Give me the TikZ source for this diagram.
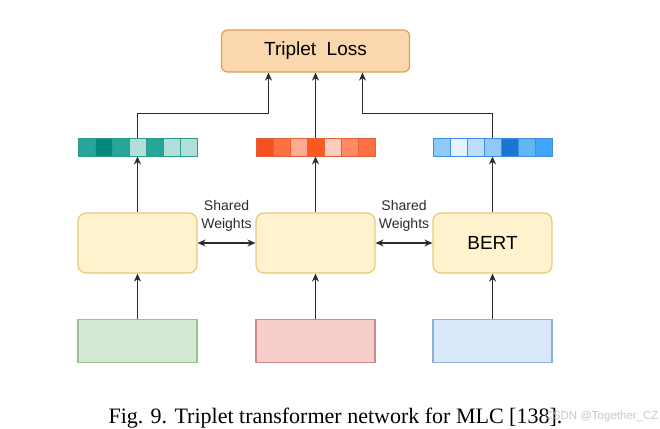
\documentclass[tikz,border=0pt]{standalone}
\usepackage{fontspec}
\setmainfont{Liberation Serif}
\setsansfont{Liberation Sans}
\usetikzlibrary{arrows.meta,positioning}
\definecolor{linegray}{HTML}{2B2B2B}
\definecolor{lossfill}{HTML}{FAD7AC}
\definecolor{lossdraw}{HTML}{D9A05B}
\definecolor{encfill}{HTML}{FFF2CC}
\definecolor{encdraw}{HTML}{E6C97A}
\definecolor{grfill}{HTML}{D5E8D4}
\definecolor{grdraw}{HTML}{97C48C}
\definecolor{rdfill}{HTML}{F8CECC}
\definecolor{rddraw}{HTML}{D08A86}
\definecolor{blfill}{HTML}{DAE8FC}
\definecolor{bldraw}{HTML}{90AEDB}
\definecolor{tA}{HTML}{26A69A}
\definecolor{tB}{HTML}{00897B}
\definecolor{tC}{HTML}{B2DFDB}
\definecolor{tD}{HTML}{2E9C8A}
\definecolor{oA}{HTML}{F4511E}
\definecolor{oB}{HTML}{FF7043}
\definecolor{oC}{HTML}{FFAB91}
\definecolor{oD}{HTML}{FF5722}
\definecolor{oE}{HTML}{FFCCBC}
\definecolor{oF}{HTML}{FF8A65}
\definecolor{oG}{HTML}{E0623A}
\definecolor{bA}{HTML}{90CAF9}
\definecolor{bB}{HTML}{E3F2FD}
\definecolor{bC}{HTML}{BBDEFB}
\definecolor{bD}{HTML}{1976D2}
\definecolor{bE}{HTML}{64B5F6}
\definecolor{bF}{HTML}{42A5F5}
\definecolor{bG}{HTML}{3D8FE0}
\begin{document}
\begin{tikzpicture}[x=1pt,y=-1pt,
    line/.style={draw=linegray,line width=1.3pt,-{Stealth[length=8pt,width=7pt]}},
    both/.style={draw=linegray,line width=1.3pt,{Stealth[length=8pt,width=7pt]}-{Stealth[length=8pt,width=7pt]}},
    encbox/.style={draw=encdraw,fill=encfill,line width=1.2pt,rounded corners=8pt,minimum width=119pt,minimum height=60pt,inner sep=0pt,font=\sffamily\fontsize{19}{22}\selectfont},
    inbox/.style={line width=1.2pt,minimum width=119pt,minimum height=43pt,inner sep=0pt},
    cell/.style={line width=0.9pt,minimum width=17pt,minimum height=18pt,inner sep=0pt},
    swtext/.style={align=center,font=\sffamily\fontsize{14}{18}\selectfont,text=linegray}]
  \pgfmathsetmacro{\w}{17}
  \useasboundingbox (0,0) rectangle (660,428);
  \node[draw=lossdraw,fill=lossfill,line width=1.2pt,rounded corners=6pt,minimum width=188pt,minimum height=42pt,font=\sffamily\fontsize{19}{21}\selectfont] (loss) at (315.5,51) {Triplet\ \ Loss};
  \node[encbox] (enc1) at (137.5,243) {};
  \node[encbox] (enc2) at (315.5,243) {};
  \node[encbox] (enc3) at (492.5,243) {BERT};
  \node[inbox,draw=grdraw,fill=grfill,below=45pt of enc1] (inp1) {};
  \node[inbox,draw=rddraw,fill=rdfill,below=45pt of enc2] (inp2) {};
  \node[inbox,draw=bldraw,fill=blfill,below=45pt of enc3] (inp3) {};
  \foreach \col [count=\i] in {tA,tB,tA,tC,tA,tC,tC}
    \node[cell,fill=\col,draw=tD] (vl\i) at ({78+\w*(\i-0.5)},147) {};
  \foreach \col [count=\i] in {oA,oB,oC,oD,oE,oF,oB}
    \node[cell,fill=\col,draw=oG] (vm\i) at ({256+\w*(\i-0.5)},147) {};
  \foreach \col [count=\i] in {bA,bB,bC,bA,bD,bE,bF}
    \node[cell,fill=\col,draw=bG] (vr\i) at ({433+\w*(\i-0.5)},147) {};
  \node[swtext] (sw1) at (226.5,216) {Shared\\Weights};
  \node[swtext] (sw2) at (404,216) {Shared\\Weights};
  \draw[line] (inp1) -- (enc1);
  \draw[line] (inp2) -- (enc2);
  \draw[line] (inp3) -- (enc3);
  \draw[line] (enc1) -- (vl4);
  \draw[line] (enc2) -- (vm4);
  \draw[line] (enc3) -- (vr4);
  \draw[both] (enc1) -- (enc2);
  \draw[both] (enc2) -- (enc3);
  \draw[line] (vl4.north) -- ++(0,-24) -| ([xshift=-47pt]loss.south);
  \draw[line] (vm4) -- (loss);
  \draw[line] (vr4.north) -- ++(0,-24) -| ([xshift=47pt]loss.south);
  \node[anchor=base west,font=\fontsize{22}{24}\selectfont] (cap) at (105,423) {Fig. 9. Triplet transformer network for MLC [138].};
  \node[anchor=base west,font=\sffamily\fontsize{11.5}{12}\selectfont,text=gray!55,opacity=.8] (wm) at (541,419) {CSDN @Together\_CZ};
\end{tikzpicture}
\end{document}
